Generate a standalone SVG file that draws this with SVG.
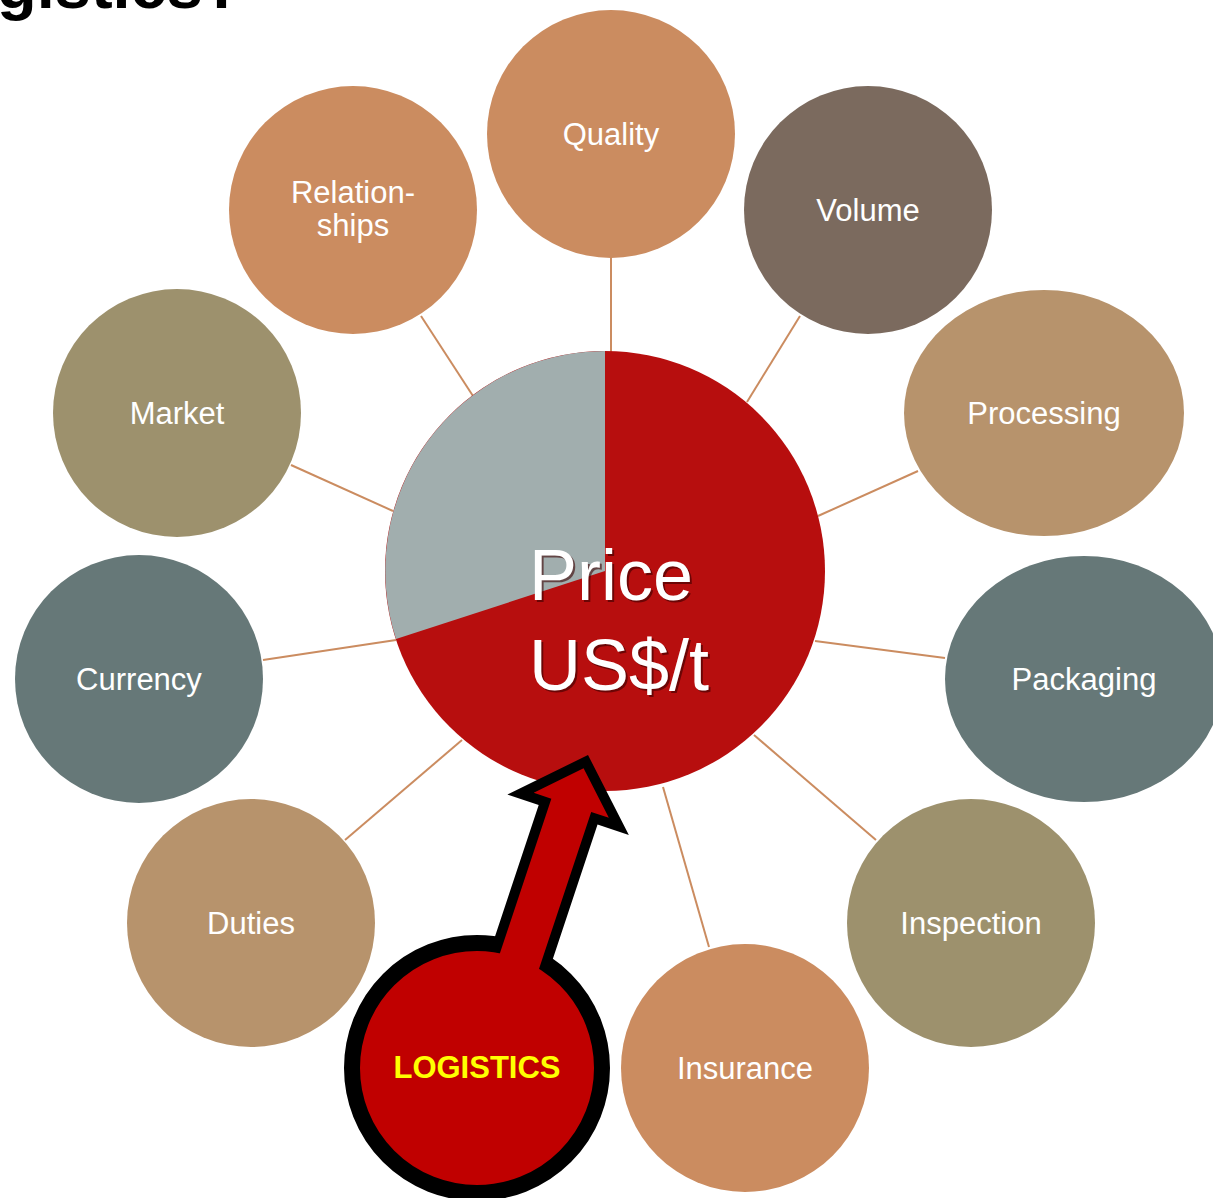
<svg xmlns="http://www.w3.org/2000/svg" width="1213" height="1198" viewBox="0 0 1213 1198">
<style>
.lbl{font-family:"Liberation Sans",Arial,sans-serif;font-size:31px;fill:#ffffff;text-anchor:middle}
.conn line{stroke:#CB8C60;stroke-width:2}
.copper{fill:#CB8C60}.brown{fill:#7B6A5E}.tan{fill:#B7936C}.slate{fill:#667878}.olive{fill:#9D916D}
.big{font-family:"Liberation Sans",Arial,sans-serif;font-size:72px}
</style>
<rect width="1213" height="1198" fill="#ffffff"/>
<text x="-3" y="8" font-family="Liberation Sans,Arial,sans-serif" font-weight="bold" font-size="65" fill="#000">gistics?</text>
<g class="conn" id="connectors">
<line x1="611" y1="258" x2="611" y2="352"/>
<line x1="800" y1="316" x2="747" y2="402"/>
<line x1="421" y1="316" x2="473" y2="396"/>
<line x1="918" y1="471" x2="818" y2="516"/>
<line x1="291" y1="465" x2="393" y2="511"/>
<line x1="945" y1="658" x2="815" y2="641"/>
<line x1="263" y1="660" x2="396" y2="640"/>
<line x1="876" y1="840" x2="754" y2="735"/>
<line x1="345" y1="840" x2="462" y2="740"/>
<line x1="709" y1="947" x2="663" y2="787"/>
</g>
<g id="quality"><circle class="copper" cx="611" cy="134" r="124"/><text class="lbl" x="611" y="145">Quality</text></g>
<g id="volume"><circle class="brown" cx="868" cy="210" r="124"/><text class="lbl" x="868" y="221">Volume</text></g>
<g id="relationships"><circle class="copper" cx="353" cy="210" r="124"/><text class="lbl" x="353" y="203">Relation-</text><text class="lbl" x="353" y="236">ships</text></g>
<g id="market"><circle class="olive" cx="177" cy="413" r="124"/><text class="lbl" x="177" y="424">Market</text></g>
<g id="processing"><ellipse class="tan" cx="1044" cy="413" rx="140" ry="123"/><text class="lbl" x="1044" y="424">Processing</text></g>
<g id="currency"><circle class="slate" cx="139" cy="679" r="124"/><text class="lbl" x="139" y="690">Currency</text></g>
<g id="packaging"><ellipse class="slate" cx="1084" cy="679" rx="139" ry="123"/><text class="lbl" x="1084" y="690">Packaging</text></g>
<g id="duties"><circle class="tan" cx="251" cy="923" r="124"/><text class="lbl" x="251" y="934">Duties</text></g>
<g id="inspection"><circle class="olive" cx="971" cy="923" r="124"/><text class="lbl" x="971" y="934">Inspection</text></g>
<g id="insurance"><circle class="copper" cx="745" cy="1068" r="124"/><text class="lbl" x="745" y="1079">Insurance</text></g>
<g id="price">
<circle cx="605" cy="571" r="220" fill="#B70E0E"/>
<path d="M605,571 L605,351 A220,220 0 0 0 396,639 Z" fill="#A1AEAE"/>
<g class="big">
<text x="531" y="602" fill="#3a0000" opacity="0.6">Price</text>
<text x="531" y="692" fill="#3a0000" opacity="0.6">US$/t</text>
<text x="529" y="600" fill="#ffffff">Price</text>
<text x="529" y="690" fill="#ffffff">US$/t</text>
</g>
</g>
<g id="logistics">
<circle cx="477" cy="1068" r="125" fill="#C00000" stroke="#000" stroke-width="16"/>
<g transform="translate(588,755) rotate(18.4)">
<polygon points="0,0 64,63 31,63 31,206 -31,202 -31,63 -64,63" fill="#000"/>
<polygon points="0,14 39.6,53 21,53 21,219 -21,217 -21,53 -39.6,53" fill="#C00000"/>
</g>
<text x="477" y="1078" font-family="Liberation Sans,Arial,sans-serif" font-weight="bold" font-size="31" fill="#FFFF00" text-anchor="middle">LOGISTICS</text>
</g>
</svg>
